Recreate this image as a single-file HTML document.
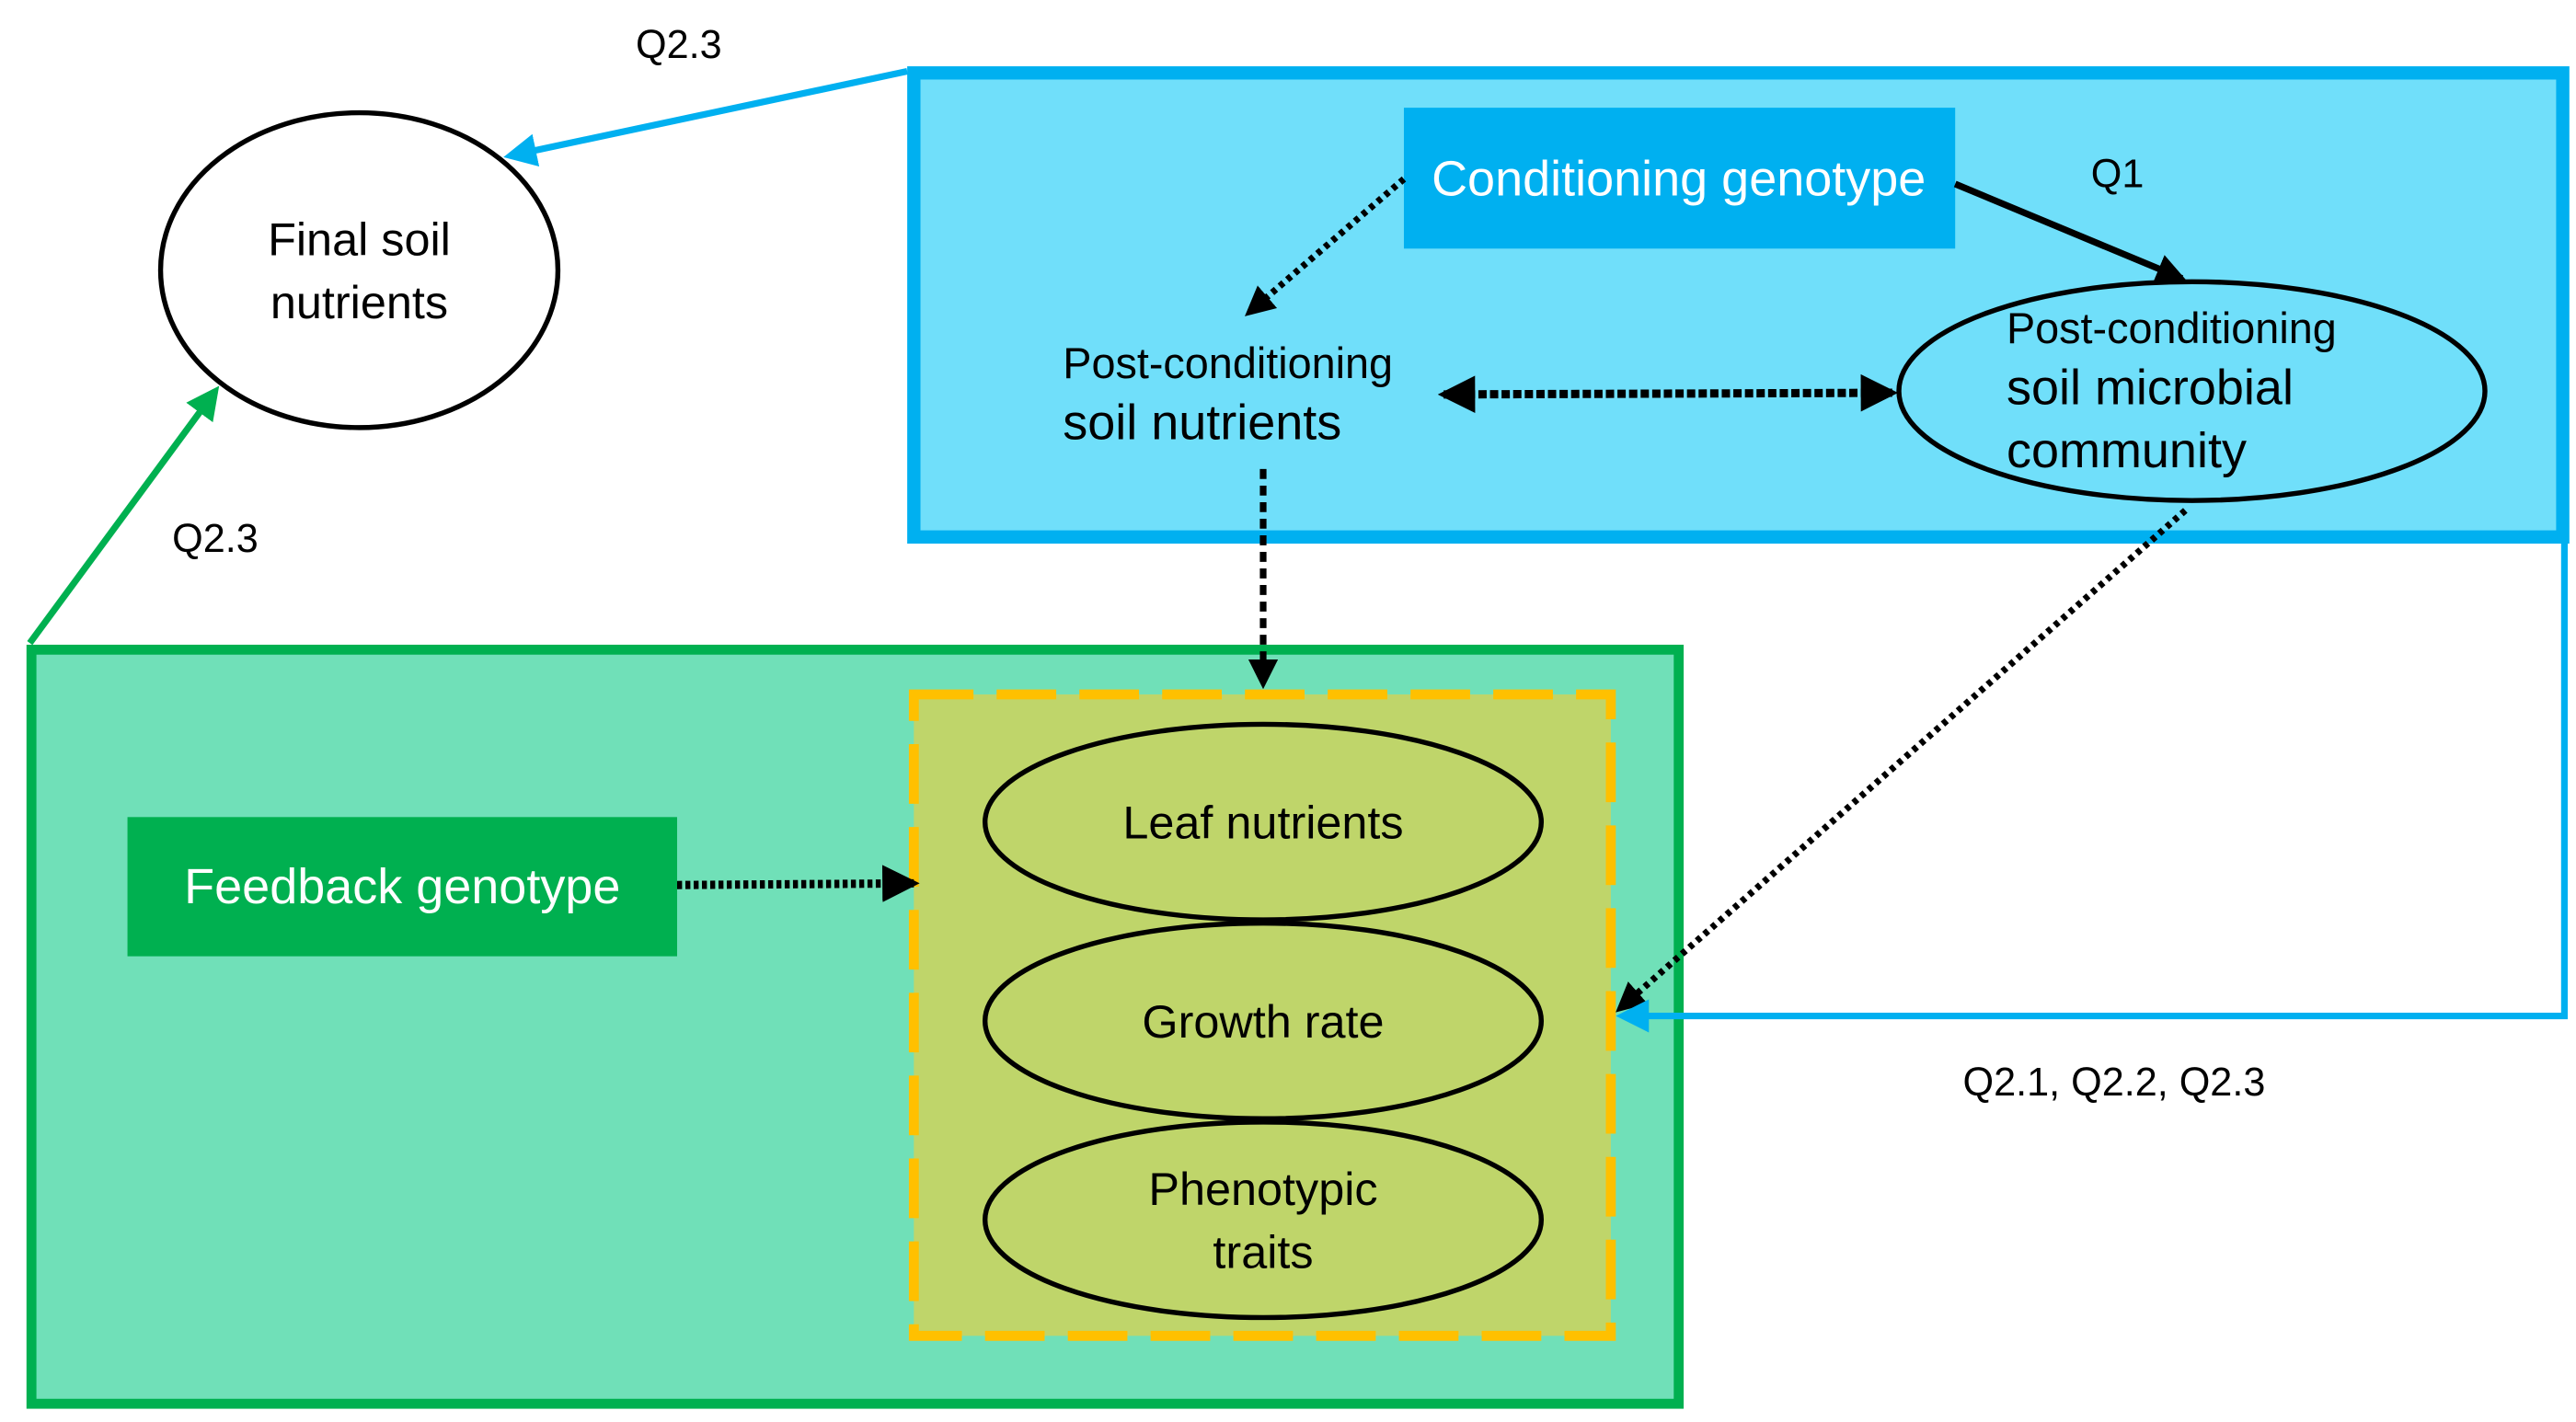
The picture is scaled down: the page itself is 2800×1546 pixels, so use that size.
<!DOCTYPE html>
<html><head><meta charset="utf-8"><style>
html,body{margin:0;padding:0;background:#fff;}
svg{display:block;}
text{font-family:"Liberation Sans",sans-serif;}
</style></head><body>
<svg width="2800" height="1546" viewBox="0 0 1556 858" preserveAspectRatio="none" xmlns="http://www.w3.org/2000/svg">
<defs>
<marker id="ab" markerWidth="4.5" markerHeight="4.5" refX="3.8" refY="2.25" orient="auto" markerUnits="strokeWidth"><path d="M0,0 L4.5,2.25 L0,4.5 z" fill="#000"/></marker>
<marker id="abs" markerWidth="4.5" markerHeight="4.5" refX="0.7" refY="2.25" orient="auto" markerUnits="strokeWidth"><path d="M4.5,0 L0,2.25 L4.5,4.5 z" fill="#000"/></marker>
<marker id="ablue" markerWidth="5" markerHeight="5" refX="4" refY="2.5" orient="auto" markerUnits="strokeWidth"><path d="M0,0 L5,2.5 L0,5 z" fill="#00B0F0"/></marker>
<marker id="agreen" markerWidth="5" markerHeight="5" refX="4" refY="2.5" orient="auto" markerUnits="strokeWidth"><path d="M0,0 L5,2.5 L0,5 z" fill="#00B050"/></marker>
</defs>
<rect x="552" y="44" width="996" height="280" fill="#70DFFA" stroke="#00B0F0" stroke-width="8"/>
<rect x="19" y="392" width="995" height="455" fill="#70E0B8" stroke="#00B050" stroke-width="6"/>
<rect x="552" y="419" width="421" height="387" fill="#BFD56A" stroke="#FFC000" stroke-width="6" stroke-dasharray="36,14"/>
<ellipse cx="217" cy="163" rx="120" ry="95" fill="#fff" stroke="#000" stroke-width="3"/>
<text x="217" y="154" font-size="28" text-anchor="middle">Final soil</text>
<text x="217" y="192" font-size="28" text-anchor="middle">nutrients</text>
<text x="410" y="35" font-size="24" text-anchor="middle">Q2.3</text>
<text x="130" y="333" font-size="24" text-anchor="middle">Q2.3</text>
<text x="1279" y="113" font-size="24" text-anchor="middle">Q1</text>
<text x="1277" y="661" font-size="24" text-anchor="middle">Q2.1, Q2.2, Q2.3</text>
<line x1="548" y1="43" x2="308" y2="94" stroke="#00B0F0" stroke-width="4" marker-end="url(#ablue)"/>
<line x1="18" y1="388" x2="130" y2="236" stroke="#00B050" stroke-width="4" marker-end="url(#agreen)"/>
<rect x="848" y="65" width="333" height="85" fill="#00B0F0"/>
<text x="1014" y="118" font-size="30" fill="#fff" text-anchor="middle">Conditioning genotype</text>
<line x1="1181" y1="111" x2="1318" y2="168" stroke="#000" stroke-width="4" marker-end="url(#ab)"/>
<ellipse cx="1324" cy="236" rx="177" ry="66" fill="#70DFFA" stroke="#000" stroke-width="3"/>
<text x="1212" y="207" font-size="26">Post-conditioning</text>
<text x="1212" y="244" font-size="30">soil microbial</text>
<text x="1212" y="282" font-size="30">community</text>
<text x="642" y="228" font-size="26">Post-conditioning</text>
<text x="642" y="265" font-size="30">soil nutrients</text>
<line x1="848" y1="108" x2="754" y2="189" stroke="#000" stroke-width="4" stroke-dasharray="3,3" marker-end="url(#ab)"/>
<line x1="872" y1="238" x2="1143" y2="237" stroke="#000" stroke-width="5" stroke-dasharray="5,2" marker-end="url(#ab)" marker-start="url(#abs)"/>
<line x1="763" y1="283" x2="763" y2="413" stroke="#000" stroke-width="4" stroke-dasharray="6,4" marker-end="url(#ab)"/>
<line x1="1320" y1="308" x2="978" y2="609" stroke="#000" stroke-width="4" stroke-dasharray="3,3" marker-end="url(#ab)"/>
<line x1="409" y1="534" x2="552" y2="533" stroke="#000" stroke-width="5" stroke-dasharray="3,2" marker-end="url(#ab)"/>
<polyline points="1549,324 1549,613 980,613" fill="none" stroke="#00B0F0" stroke-width="4" marker-end="url(#ablue)"/>
<rect x="77" y="493" width="332" height="84" fill="#00B050"/>
<text x="243" y="545" font-size="30" fill="#fff" text-anchor="middle">Feedback genotype</text>
<ellipse cx="763" cy="496" rx="168" ry="59" fill="#BFD56A" stroke="#000" stroke-width="3"/>
<text x="763" y="506" font-size="28" text-anchor="middle">Leaf nutrients</text>
<ellipse cx="763" cy="616" rx="168" ry="59" fill="#BFD56A" stroke="#000" stroke-width="3"/>
<text x="763" y="626" font-size="28" text-anchor="middle">Growth rate</text>
<ellipse cx="763" cy="736" rx="168" ry="59" fill="#BFD56A" stroke="#000" stroke-width="3"/>
<text x="763" y="727" font-size="28" text-anchor="middle">Phenotypic</text>
<text x="763" y="765" font-size="28" text-anchor="middle">traits</text>
</svg>
</body></html>
